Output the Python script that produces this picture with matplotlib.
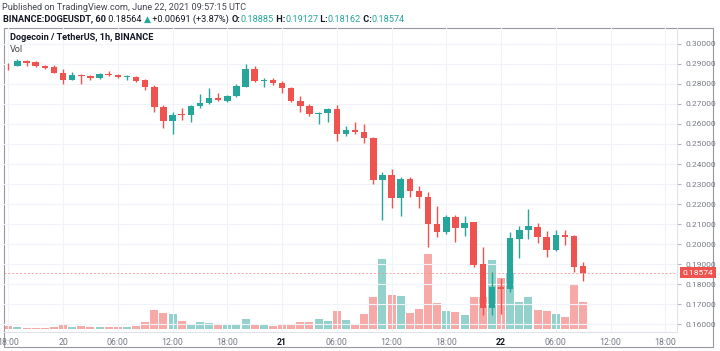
import matplotlib
matplotlib.use("Agg")
import matplotlib.pyplot as plt
from matplotlib.patches import Rectangle
from matplotlib.transforms import blended_transform_factory
import numpy as np

# ---------- dados (DOGEUSDT 1h, 19/06 18:00 -> 22/06 09:00) ----------
opens = [0.2895, 0.2890, 0.2915, 0.2909, 0.2891, 0.2883, 0.2857, 0.2822, 0.2845, 0.2840, 0.2831, 0.2852, 0.2847, 0.2836, 0.2833, 0.2819,
         0.2785, 0.2684, 0.2617, 0.2649, 0.2643, 0.2688, 0.2705, 0.2728, 0.2716, 0.2740, 0.2786, 0.2876, 0.2816, 0.2821, 0.2807, 0.2779,
         0.2714, 0.2690, 0.2650, 0.2653, 0.2674, 0.2552, 0.2571, 0.2562, 0.2531, 0.2321, 0.2345, 0.2228, 0.2326, 0.2267, 0.2236, 0.2100,
         0.2060, 0.2133, 0.2081, 0.2109, 0.1902, 0.1681, 0.1786, 0.1776, 0.2026, 0.2069, 0.2086, 0.2034, 0.1971, 0.2047, 0.2040, 0.18885]
closes = [0.2893, 0.2916, 0.2905, 0.2888, 0.2881, 0.2857, 0.2822, 0.2847, 0.2838, 0.2829, 0.2852, 0.2843, 0.2833, 0.2838, 0.2817, 0.2783,
          0.2685, 0.2617, 0.2645, 0.2643, 0.2691, 0.2707, 0.2728, 0.2719, 0.2742, 0.2791, 0.2876, 0.2814, 0.2819, 0.2805, 0.2778, 0.2714,
          0.2690, 0.2650, 0.2655, 0.2676, 0.2552, 0.2571, 0.2560, 0.2531, 0.2319, 0.2345, 0.2228, 0.2326, 0.2266, 0.2236, 0.2098, 0.2060,
          0.2133, 0.2081, 0.2107, 0.1897, 0.1681, 0.1784, 0.1776, 0.2029, 0.2069, 0.2090, 0.2034, 0.1971, 0.2047, 0.2034, 0.1884, 0.18574]
highs = [0.2903, 0.2924, 0.2919, 0.2917, 0.2897, 0.2897, 0.2876, 0.2859, 0.2848, 0.2847, 0.2855, 0.2866, 0.2850, 0.2845, 0.2841, 0.2824,
         0.2793, 0.2693, 0.2662, 0.2681, 0.2693, 0.2748, 0.2779, 0.2753, 0.2747, 0.2798, 0.2900, 0.2891, 0.2831, 0.2831, 0.2814, 0.2786,
         0.2741, 0.2698, 0.2660, 0.2681, 0.2695, 0.2588, 0.2612, 0.2600, 0.2536, 0.2362, 0.2374, 0.2333, 0.2334, 0.2288, 0.2262, 0.2190,
         0.2147, 0.2143, 0.2141, 0.2112, 0.1986, 0.1862, 0.1828, 0.2060, 0.2090, 0.2176, 0.2103, 0.2066, 0.2069, 0.2072, 0.2047, 0.19127]
lows = [0.2871, 0.2888, 0.2888, 0.2884, 0.2876, 0.2853, 0.2802, 0.2819, 0.2798, 0.2821, 0.2826, 0.2841, 0.2829, 0.2819, 0.2809, 0.2771,
        0.2660, 0.2581, 0.2548, 0.2621, 0.2609, 0.2681, 0.2698, 0.2716, 0.2712, 0.2736, 0.2783, 0.2810, 0.2786, 0.2793, 0.2755, 0.2710,
        0.2659, 0.2638, 0.2600, 0.2609, 0.2517, 0.2538, 0.2552, 0.2503, 0.2300, 0.2121, 0.2179, 0.2138, 0.2234, 0.2179, 0.1983, 0.2034,
        0.2052, 0.2009, 0.2038, 0.1884, 0.1647, 0.1647, 0.1652, 0.1759, 0.1931, 0.2026, 0.2005, 0.1936, 0.1966, 0.1995, 0.1859, 0.18162]
volumes = [3.3, 2.3, 1.7, 1.7, 1.7, 2.7, 5.3, 2.3, 3.3, 2.7, 2.7, 2.0, 2.0, 2.7, 3.3, 7.2,
           19.3, 16.3, 15.3, 8.5, 5.3, 7.8, 6.5, 5.0, 4.3, 5.0, 10.0, 4.3, 5.0, 3.0, 4.0, 4.0,
           7.0, 7.0, 10.0, 8.5, 18.5, 9.0, 5.3, 15.3, 32.7, 70.0, 34.3, 33.7, 16.0, 20.0, 75.0, 26.0,
           18.3, 17.7, 14.3, 32.0, 32.0, 69.0, 51.0, 56.0, 27.7, 32.7, 19.0, 18.3, 15.8, 12.7, 45.2, 27.0]

# rótulos do eixo do tempo (hora 0 = 19/06 18:00)
tick_hours = [0, 6, 12, 18, 24, 30, 36, 42, 48, 54, 60, 66, 72]
tick_labels = ["18:00", "20", "06:00", "12:00", "18:00", "21", "06:00", "12:00", "18:00", "22", "06:00", "12:00", "18:00"]
price_ticks = [0.16, 0.17, 0.18, 0.19, 0.20, 0.21, 0.22, 0.23, 0.24, 0.25, 0.26, 0.27, 0.28, 0.29, 0.30]
last_price = 0.18574

VERDE = "#26a69a"
VERMELHO = "#ef5350"
VERDE_VOL = "#93d2cc"
VERMELHO_VOL = "#f7a9a7"
CINZA = "#787b86"
ESCURO = "#131722"

plt.rcParams["font.family"] = ["Roboto", "DejaVu Sans"]

W, H = 720, 351
fig = plt.figure(figsize=(W / 100, H / 100), dpi=100)
fig.patch.set_facecolor("white")

def px(x0, y0, x1, y1):
    return [x0 / W, 1 - y1 / H, (x1 - x0) / W, (y1 - y0) / H]

ax = fig.add_axes(px(4, 28, 677, 332))
axv = ax.twinx()
ax.set_zorder(axv.get_zorder() + 1)
ax.patch.set_visible(False)

o = np.array(opens); c = np.array(closes); h = np.array(highs); l = np.array(lows)
v = np.array(volumes)
t = np.arange(len(o))
up = c >= o

# ---------- volume ----------
axv.bar(t, v, width=0.88, color=np.where(up, VERDE_VOL, VERMELHO_VOL), linewidth=0)
axv.set_ylim(-2.7, 301.3)
axv.set_yticks([])
for s in axv.spines.values():
    s.set_visible(False)

# ---------- velas ----------
cores = np.where(up, VERDE, VERMELHO)
ax.vlines(t, l, h, colors=cores, linewidth=1.0, zorder=3)
ax.bar(t, np.abs(c - o), bottom=np.minimum(o, c), width=0.72, color=cores, linewidth=0, zorder=4)

ax.axhline(last_price, color="#f28c8a", alpha=0.8, linewidth=0.7, linestyle=(0, (2, 2)), zorder=2)

ax.set_xlim(-0.47, 73.28)
ax.set_ylim(0.15607, 0.30795)

ax.yaxis.tick_right()
ax.set_yticks(price_ticks)
ax.set_yticklabels([f"{p:.5f}" for p in price_ticks])
ax.tick_params(axis="y", length=3, color="#b2b5be", labelsize=6, labelcolor=CINZA, pad=3)
ax.set_xticks(tick_hours)
ax.set_xticklabels(tick_labels)
ax.tick_params(axis="x", length=0, labelsize=6.3, labelcolor=CINZA, pad=4)
for lbl in ax.get_xticklabels():
    if lbl.get_text() in ("21", "22"):
        lbl.set_fontweight("bold")
        lbl.set_color(ESCURO)

ax.grid(True, color="#f0f3fa", linewidth=0.8)
ax.set_axisbelow(True)
for nome, s in ax.spines.items():
    s.set_color("#e0e3eb")
    s.set_linewidth(0.8)
ax.spines["top"].set_visible(False)
ax.spines["left"].set_visible(False)

# etiqueta do último preço
trans = blended_transform_factory(ax.transAxes, ax.transData)
ax.text(1.008, last_price, f"{last_price:.5f}", transform=trans, ha="left", va="center",
        fontsize=6, color="white", zorder=10, clip_on=False,
        bbox=dict(boxstyle="square,pad=0.3", facecolor=VERMELHO, edgecolor="none"))

# moldura externa
fig.add_artist(Rectangle((4 / W, 1 - 347 / H), 709 / W, 319 / H, transform=fig.transFigure,
                         fill=False, edgecolor="#9598a1", linewidth=0.8))

# ---------- textos ----------
fig.text(2 / W, 1 - 7 / H, "Published on TradingView.com, June 22, 2021 09:57:15 UTC",
         fontsize=6.6, color="#434651", va="center", ha="left")

partes = [("BINANCE:DOGEUSDT, 60", ESCURO, "bold"), (" 0.18564 ", ESCURO, "normal"), ("▲", VERDE, "normal"),
          (" +0.00691 (+3.87%) ", ESCURO, "normal"),
          ("O:", ESCURO, "bold"), ("0.18885", VERDE, "normal"), (" H:", ESCURO, "bold"), ("0.19127", VERDE, "normal"),
          (" L:", ESCURO, "bold"), ("0.18162", VERDE, "normal"), (" C:", ESCURO, "bold"), ("0.18574", VERDE, "normal")]
anterior = None
for texto, cor, peso in partes:
    if anterior is None:
        anterior = fig.text(3 / W, 1 - 19 / H, texto, fontsize=6.6, color=cor, fontweight=peso,
                            va="center", ha="left")
    else:
        anterior = ax.annotate(texto, xy=(1, 0), xycoords=anterior, ha="left", va="bottom",
                               fontsize=6.6, color=cor, fontweight=peso, annotation_clip=False)

fig.text(10 / W, 1 - 38 / H, "Dogecoin / TetherUS, 1h, BINANCE", fontsize=6.6, color=ESCURO,
         fontweight="bold", va="center", ha="left")
fig.text(10 / W, 1 - 49 / H, "Vol", fontsize=6.6, color="#434651", va="center", ha="left")

fig.savefig("out.png", dpi=100, facecolor="white")
